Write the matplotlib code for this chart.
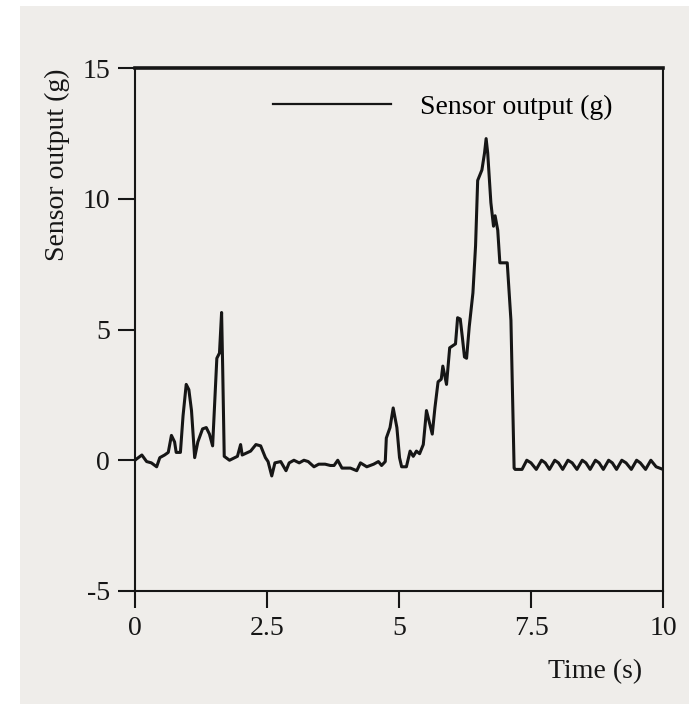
import matplotlib
matplotlib.use("Agg")
import matplotlib.pyplot as plt
from matplotlib.patches import Rectangle

# values
time_s = [0.0, 0.03, 0.13, 0.22, 0.31, 0.41, 0.47, 0.56, 0.63, 0.69, 0.75, 0.78,
          0.86, 0.91, 0.97, 1.02, 1.07, 1.13, 1.19, 1.28, 1.35, 1.41, 1.47, 1.55,
          1.60, 1.64, 1.66, 1.69, 1.79, 1.94, 2.00, 2.03, 2.19, 2.29, 2.38, 2.47,
          2.52, 2.59, 2.65, 2.76, 2.86, 2.92, 3.01, 3.11, 3.20, 3.28, 3.39, 3.48,
          3.60, 3.70, 3.77, 3.84, 3.92, 4.08, 4.20, 4.27, 4.39, 4.52, 4.61, 4.67,
          4.74, 4.76, 4.83, 4.89, 4.96, 5.01, 5.05, 5.14, 5.21, 5.27, 5.33, 5.39,
          5.46, 5.52, 5.58, 5.63, 5.68, 5.74, 5.80, 5.83, 5.90, 5.96, 6.07, 6.11,
          6.16, 6.20, 6.24, 6.28, 6.33, 6.40, 6.45, 6.49, 6.57, 6.62, 6.65, 6.68,
          6.74, 6.79, 6.82, 6.87, 6.91, 7.05, 7.12, 7.18, 7.20,
          7.33, 7.42, 7.50, 7.60, 7.70, 7.77, 7.85, 7.95, 8.02, 8.10, 8.20, 8.28,
          8.37, 8.47, 8.54, 8.62, 8.72, 8.79, 8.87, 8.97, 9.04, 9.12, 9.22, 9.30,
          9.40, 9.50, 9.57, 9.67, 9.77, 9.87, 10.0]
output_g = [0.0, 0.05, 0.2, -0.05, -0.1, -0.25, 0.1, 0.2, 0.3, 0.95, 0.7, 0.3,
            0.3, 1.7, 2.9, 2.7, 1.9, 0.1, 0.7, 1.2, 1.25, 1.0, 0.55, 3.9,
            4.1, 5.65, 3.6, 0.15, 0.0, 0.15, 0.6, 0.2, 0.35, 0.6, 0.55, 0.1,
            -0.05, -0.6, -0.1, -0.05, -0.4, -0.1, 0.0, -0.1, 0.0, -0.05, -0.25, -0.15,
            -0.15, -0.2, -0.2, 0.0, -0.3, -0.3, -0.4, -0.1, -0.25, -0.15, -0.05, -0.2,
            -0.05, 0.85, 1.25, 2.0, 1.25, 0.1, -0.25, -0.25, 0.35, 0.15, 0.35, 0.25,
            0.6, 1.9, 1.4, 1.0, 2.0, 3.0, 3.1, 3.6, 2.9, 4.3, 4.45, 5.45,
            5.4, 4.7, 3.95, 3.9, 5.1, 6.4, 8.2, 10.7, 11.1, 11.75, 12.3, 11.75,
            9.85, 8.95, 9.35, 8.8, 7.55, 7.55, 5.35, -0.3, -0.35,
            -0.35, 0.0, -0.1, -0.35, 0.0, -0.1, -0.35, 0.0, -0.1, -0.35, 0.0, -0.1,
            -0.35, 0.0, -0.1, -0.35, 0.0, -0.1, -0.35, 0.0, -0.1, -0.35, 0.0, -0.1,
            -0.35, 0.0, -0.1, -0.35, 0.0, -0.25, -0.35]

x_ticks = [0, 2.5, 5, 7.5, 10]
x_labels = ["0", "2.5", "5", "7.5", "10"]
y_ticks = [-5, 0, 5, 10, 15]
y_labels = ["-5", "0", "5", "10", "15"]

paper = "#efedea"
ink = "#161616"

plt.rcParams["font.family"] = ["Liberation Serif", "DejaVu Serif"]
plt.rcParams["font.size"] = 20

fig = plt.figure(figsize=(6.89, 7.04), dpi=100, facecolor="white")
# scanned page area (white margin on the left and top)
fig.patches.append(Rectangle((20 / 689, 0), 1, 1 - 6 / 704, transform=fig.transFigure,
                             facecolor=paper, edgecolor="none", zorder=-5))

ax = fig.add_axes([135 / 689, 1 - 591 / 704, 528 / 689, 523 / 704])
ax.set_facecolor(paper)

ax.plot(time_s, output_g, color=ink, lw=2.2, label="Sensor output (g)")

ax.set_xlim(0, 10)
ax.set_ylim(-5, 15)
ax.set_xticks(x_ticks, x_labels)
ax.set_yticks(y_ticks, y_labels)
ax.tick_params(direction="out", length=12, width=1.5, pad=6, colors=ink)

for side in ["left", "bottom", "right"]:
    ax.spines[side].set_linewidth(1.5)
    ax.spines[side].set_color(ink)
ax.spines["top"].set_linewidth(2.6)
ax.spines["top"].set_color(ink)

ax.set_xlabel("Time (s)", color=ink)
ax.xaxis.set_label_coords(0.871, -0.155)
ax.xaxis.label.set_va("center")
ax.set_ylabel("Sensor output (g)", color=ink)
ax.yaxis.set_label_coords(-0.146, 0.815)
ax.yaxis.label.set_va("center")

leg = ax.legend(loc="center left", bbox_to_anchor=(0.261, 0.925), frameon=False,
                handlelength=4.25, handletextpad=1.05, borderpad=0, borderaxespad=0)
leg.get_lines()[0].set_linewidth(1.6)

fig.savefig("out.png", dpi=100, facecolor=fig.get_facecolor())
